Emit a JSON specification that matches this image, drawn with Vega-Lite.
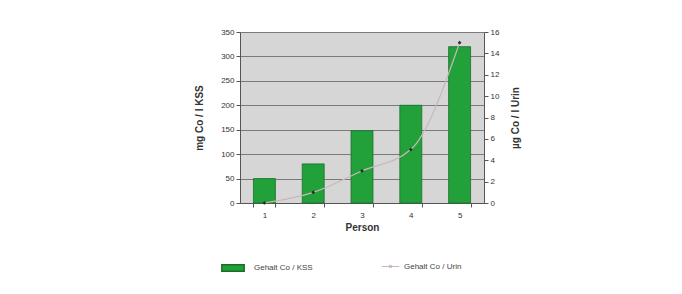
{
  "$schema": "https://vega.github.io/schema/vega-lite/v6.json",
  "width": 244,
  "height": 171,
  "padding": {"left": 194, "top": 28, "right": 10, "bottom": 5},
  "background": "white",
  "config": {
    "font": "Liberation Sans",
    "view": {"fill": "#d6d6d6", "stroke": null},
    "axis": {"labelFontSize": 8, "labelColor": "#333", "titleFontSize": 10, "titleFontWeight": "bold", "titleColor": "#333", "domainColor": "#555", "tickColor": "#555", "tickSize": 4}
  },
  "data": {"values": [
    {"Person": "1", "KSS": 50, "Urin": 0},
    {"Person": "2", "KSS": 80, "Urin": 1},
    {"Person": "3", "KSS": 148, "Urin": 3},
    {"Person": "4", "KSS": 200, "Urin": 5},
    {"Person": "5", "KSS": 320, "Urin": 15}
  ]},
  "encoding": {
    "x": {"field": "Person", "type": "ordinal", "scale": {"paddingInner": 0.55, "paddingOuter": 0.275},
      "axis": {"title": "Person", "labelAngle": 0, "tickBand": "extent", "titlePadding": 3, "labelPadding": 4}}
  },
  "layer": [
    {
      "mark": {"type": "bar", "stroke": "#1a6e2a", "strokeWidth": 0.8},
      "encoding": {
        "y": {"field": "KSS", "type": "quantitative", "scale": {"domain": [0, 350]},
          "axis": {"title": "mg Co / l KSS", "values": [0,50,100,150,200,250,300,350], "grid": true, "gridColor": "#7a7a7a", "gridWidth": 1, "titlePadding": 16}},
        "fill": {"datum": "Gehalt Co / KSS", "type": "nominal", "scale": {"range": ["#22a03a"]},
          "legend": {"title": null, "orient": "none", "legendX": -19, "legendY": 224, "symbolType": "M-1,-0.28H1V0.28H-1Z", "symbolSize": 500, "symbolStrokeColor": "#1a6e2a", "labelFontSize": 8, "labelColor": "#444", "labelOffset": 9}}
      }
    },
    {
      "mark": {"type": "line", "interpolate": "monotone", "strokeWidth": 1.2},
      "encoding": {
        "y": {"field": "Urin", "type": "quantitative", "scale": {"domain": [0, 16]},
          "axis": {"orient": "right", "title": "µg Co / l Urin", "titleAngle": 270, "titleBaseline": "top", "values": [0,2,4,6,8,10,12,14,16], "grid": false, "titlePadding": 12}},
        "stroke": {"datum": "Gehalt Co / Urin", "type": "nominal", "scale": {"range": ["#c9b8bb"]},
          "legend": {"title": null, "orient": "none", "legendX": 141, "legendY": 225, "symbolType": "M-1,0H1M-0.15,-0.15L0.15,0.15M-0.15,0.15L0.15,-0.15", "symbolSize": 300, "symbolStrokeWidth": 1.2, "labelFontSize": 8, "labelColor": "#444"}}
      }
    },
    {
      "mark": {"type": "point", "shape": "diamond", "size": 14, "filled": true, "color": "#2a2a2a", "opacity": 1},
      "encoding": {
        "y": {"field": "Urin", "type": "quantitative", "scale": {"domain": [0, 16]}, "axis": null}
      }
    }
  ],
  "resolve": {"scale": {"y": "independent", "fill": "independent", "stroke": "independent"}}
}
